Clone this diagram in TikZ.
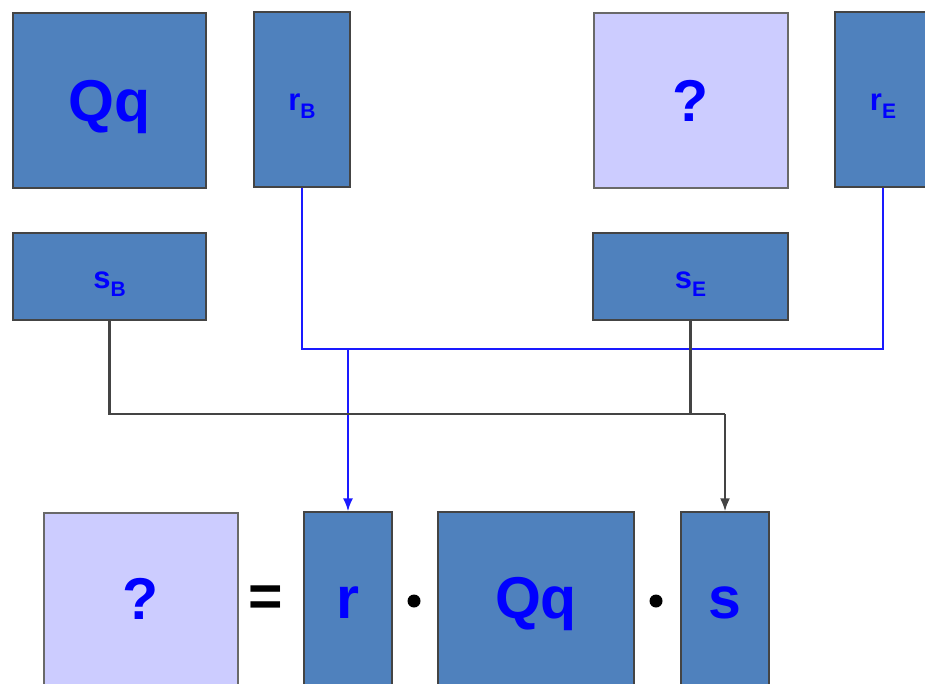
\documentclass[tikz,border=0pt]{standalone}
\usepackage{fontspec}
\setmainfont{Liberation Sans}
\usepackage{tikz}
\usetikzlibrary{arrows,arrows.meta,shapes,calc,positioning}
\definecolor{boxblue}{HTML}{4F81BD}
\definecolor{boxlight}{HTML}{CCCCFF}
\definecolor{txtblue}{HTML}{0000FF}
\definecolor{wire}{HTML}{444444}
\definecolor{bluewire}{HTML}{1A1AFF}
\newcommand{\bigtxt}{\fontsize{59}{64}\selectfont\bfseries}
\newcommand{\midtxt}{\fontsize{31}{36}\selectfont\bfseries}
\newcommand{\subtxt}[1]{\raisebox{-8pt}{\fontsize{21}{24}\selectfont\bfseries #1}}
\tikzstyle{blk}  =[rectangle, draw=wire, fill=boxblue, line width=1.3pt,
                   inner sep=0pt, text=txtblue, text depth=0pt]
\tikzstyle{unk}  =[rectangle, draw=wire!80, fill=boxlight, line width=1.3pt,
                   inner sep=0pt, text=txtblue, text depth=0pt]
\tikzstyle{bt}   =[text height=42pt]
\tikzstyle{lt}   =[text height=37pt]
\tikzstyle{mt}   =[text height=23pt]
\tikzstyle{bwire}=[draw=bluewire, line width=2pt]
\tikzstyle{gwire}=[draw=wire, line width=2.2pt]
\tikzstyle{tip}  =[-{Latex[length=13pt,width=10pt]}]
\tikzstyle{op}   =[inner sep=0pt, fill=none, draw=none]
\tikzstyle{dot}  =[circle, fill=black, minimum size=13pt, inner sep=0pt]

\begin{document}
\begin{tikzpicture}[x=1pt, y=-1pt]
    \useasboundingbox (0,0) rectangle (925,684);
    \clip (0,0) rectangle (925,684);
    % top row
    \node (q) [blk, bt, minimum width=193pt, minimum height=175pt] at (109.5,100.5) {\bigtxt Qq};
    \node (a) [blk, mt, minimum width=96pt, minimum height=175pt] at (302,99.5) {\midtxt r\subtxt{B}};
    \node (u) [unk, bt, minimum width=194pt, minimum height=175pt] at (691,100.5) {\bigtxt ?};
    \node (e) [blk, mt, minimum width=96pt, minimum height=175pt] at (883,99.5) {\midtxt r\subtxt{E}};
    \node (b) [blk, mt, minimum width=193pt, minimum height=87pt] at (109.5,276.5) {\midtxt s\subtxt{B}};
    \node (f) [blk, mt, minimum width=195pt, minimum height=87pt] at (690.5,276.5) {\midtxt s\subtxt{E}};
    % bottom row
    \node (x) [unk, lt, minimum width=194pt, minimum height=176pt] at (141,601) {\bigtxt ?};
    \node (eq) [op] at (266,601) {\bigtxt =};
    \node (r) [blk, lt, minimum width=88pt, minimum height=176pt] at (348,600) {\bigtxt r};
    \node (d1) [dot] at (414,601) {};
    \node (m) [blk, lt, minimum width=196pt, minimum height=176pt] at (536,600) {\bigtxt Qq};
    \node (d2) [dot] at (656,601) {};
    \node (s) [blk, lt, minimum width=88pt, minimum height=176pt] at (725,600) {\bigtxt s};
    % wiring
    \coordinate (j) at ($(r.north)+(0,-162)$);
    \coordinate (k) at ($(s.north)+(0,-97)$);
    \draw[bwire] (a.south) |- (j) -| (e.south);
    \draw[bwire, tip] (j) -- (r.north);
    \draw[gwire] (b.south) |- (k);
    \draw[gwire] (f.south) -- (f.south |- k);
    \draw[gwire, tip] (k) -- (s.north);
\end{tikzpicture}
\end{document}
